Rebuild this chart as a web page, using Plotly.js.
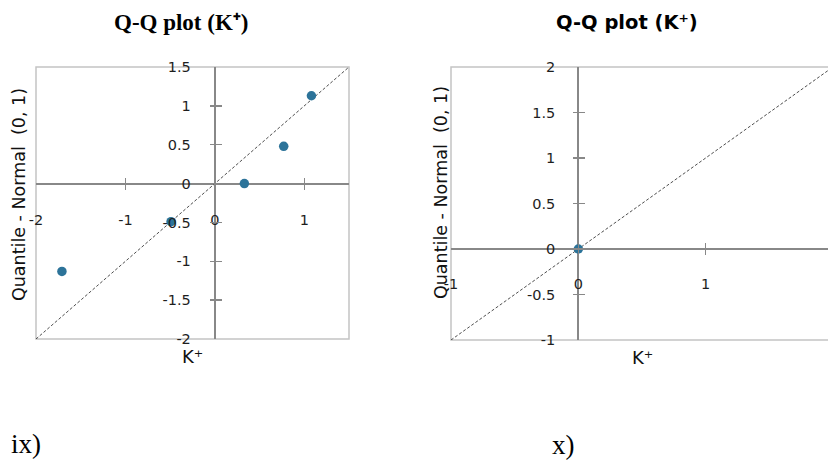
<!DOCTYPE html>
<html>
<head>
<meta charset="utf-8">
<script src="https://cdn.plot.ly/plotly-3.0.1.min.js"></script>
<style>
  html, body { margin: 0; padding: 0; overflow: hidden; background: #fff; }
  #chart { width: 840px; height: 463px; }
</style>
</head>
<body>
<div id="chart"></div>
<script>
// Q-Q plot data: sample quantiles (x) against standard normal quantiles (y)
const panelLabels = ['ix)', 'x)'];
const plotTitle = 'Q-Q plot (K⁺)';
const xTitle = 'K⁺';
const yTitle = 'Quantile - Normal  (0, 1)';

const leftSample = [-1.71, -0.49, 0.33, 0.77, 1.08];
const leftNormal = [-1.13, -0.49, 0, 0.48, 1.13];
const leftRange = [-2, 1.5];
const leftXTicks = [-2, -1, 0, 1];
const leftYTicks = [-2, -1.5, -1, -0.5, 0, 0.5, 1, 1.5];

const rightSample = [0];
const rightNormal = [0];
const rightRange = [-1, 2];
const rightXTicks = [-1, 0, 1, 2];
const rightYTicks = [-1, -0.5, 0, 0.5, 1, 1.5, 2];

// page geometry (pixels)
const W = 840, H = 463;
const fx = px => px / W;
const fy = py => 1 - py / H;

const panels = [
  { box: [36, 67, 349, 339], range: leftRange, xt: leftXTicks, yt: leftYTicks,
    sx: leftSample, sy: leftNormal, xStand: 20, yStand: 18 },
  { box: [451, 67, 833, 340], range: rightRange, xt: rightXTicks, yt: rightYTicks,
    sx: rightSample, sy: rightNormal, xStand: 18, yStand: 17 }
];

const markerColor = '#2c7399';
const axisGray = '#888888';
const tickFont = { family: 'DejaVu Sans', size: 14.5, color: '#1e1e1e' };

const data = [];
const layout = {
  width: W, height: H,
  margin: { l: 0, r: 0, t: 0, b: 0 },
  paper_bgcolor: '#fff', plot_bgcolor: '#fff',
  showlegend: false,
  shapes: [], annotations: []
};

panels.forEach((p, i) => {
  const n = i + 1;
  const xa = n === 1 ? 'xaxis' : 'xaxis' + n;
  const ya = n === 1 ? 'yaxis' : 'yaxis' + n;
  const xr = n === 1 ? 'x' : 'x' + n;
  const yr = n === 1 ? 'y' : 'y' + n;
  const [x0, y0, x1, y1] = p.box;
  const [lo, hi] = p.range;
  // pixel location of the zero crossing
  const px0 = x0 + (0 - lo) / (hi - lo) * (x1 - x0);
  const py0 = y1 - (0 - lo) / (hi - lo) * (y1 - y0);

  layout[xa] = {
    domain: [fx(x0), fx(x1)], range: p.range, anchor: 'free',
    position: fy(py0 + 6), side: 'bottom',
    tickmode: 'array', tickvals: p.xt, ticktext: p.xt.map(String),
    ticks: 'inside', ticklen: 12, tickwidth: 1.5, tickcolor: axisGray,
    ticklabelstandoff: p.xStand,
    showline: false, showgrid: false,
    zeroline: true, zerolinecolor: axisGray, zerolinewidth: 2,
    tickfont: tickFont, fixedrange: true
  };
  layout[ya] = {
    domain: [fy(y1), fy(y0)], range: p.range, anchor: 'free',
    position: fx(px0 - 6), side: 'left',
    tickmode: 'array', tickvals: p.yt, ticktext: p.yt.map(String),
    ticks: 'inside', ticklen: 12, tickwidth: 1.5, tickcolor: axisGray,
    ticklabelstandoff: p.yStand,
    showline: false, showgrid: false,
    zeroline: true, zerolinecolor: axisGray, zerolinewidth: 2,
    tickfont: tickFont, fixedrange: true
  };

  // diagonal reference line
  data.push({
    type: 'scatter', mode: 'lines', x: p.range, y: p.range,
    xaxis: xr, yaxis: yr, hoverinfo: 'skip',
    line: { color: '#3a3a3a', width: 0.9, dash: '3px,2px' }
  });
  // quantile points
  data.push({
    type: 'scatter', mode: 'markers', x: p.sx, y: p.sy,
    xaxis: xr, yaxis: yr, cliponaxis: false,
    marker: { color: markerColor, size: 9.5 }
  });

  // plot-area frame
  layout.shapes.push({
    type: 'rect', xref: xr + ' domain', yref: yr + ' domain',
    x0: 0, x1: 1, y0: 0, y1: 1, layer: 'below',
    line: { color: '#c4c4c4', width: 1.5 }
  });

  // x-axis title under the frame
  layout.annotations.push({
    xref: 'paper', yref: 'paper', x: fx((x0 + x1) / 2), y: fy(y1 + 17),
    xanchor: 'center', yanchor: 'middle', showarrow: false,
    text: xTitle, font: { family: 'DejaVu Sans', size: 18, color: '#111' }
  });
});

// titles
layout.annotations.push(
  { xref: 'paper', yref: 'paper', x: fx(181), y: fy(22), xanchor: 'center', yanchor: 'middle',
    showarrow: false, text: '<b>' + plotTitle + '</b>',
    font: { family: 'Liberation Serif', size: 23, color: '#000' } },
  { xref: 'paper', yref: 'paper', x: fx(627), y: fy(22), xanchor: 'center', yanchor: 'middle',
    showarrow: false, text: '<b>' + plotTitle + '</b>',
    font: { family: 'DejaVu Sans', size: 19.5, color: '#000' } },
  { xref: 'paper', yref: 'paper', x: fx(19), y: fy(195), xanchor: 'center', yanchor: 'middle',
    showarrow: false, textangle: -90, text: yTitle,
    font: { family: 'DejaVu Sans', size: 17.5, color: '#111' } },
  { xref: 'paper', yref: 'paper', x: fx(441), y: fy(193), xanchor: 'center', yanchor: 'middle',
    showarrow: false, textangle: -90, text: yTitle,
    font: { family: 'DejaVu Sans', size: 17.5, color: '#111' } },
  { xref: 'paper', yref: 'paper', x: fx(9), y: fy(444), xanchor: 'left', yanchor: 'middle',
    showarrow: false, text: panelLabels[0],
    font: { family: 'Liberation Serif', size: 27, color: '#000' } },
  { xref: 'paper', yref: 'paper', x: fx(550), y: fy(445), xanchor: 'left', yanchor: 'middle',
    showarrow: false, text: panelLabels[1],
    font: { family: 'Liberation Serif', size: 27, color: '#000' } }
);

Plotly.newPlot('chart', data, layout, { staticPlot: true, displayModeBar: false });
</script>
</body>
</html>
